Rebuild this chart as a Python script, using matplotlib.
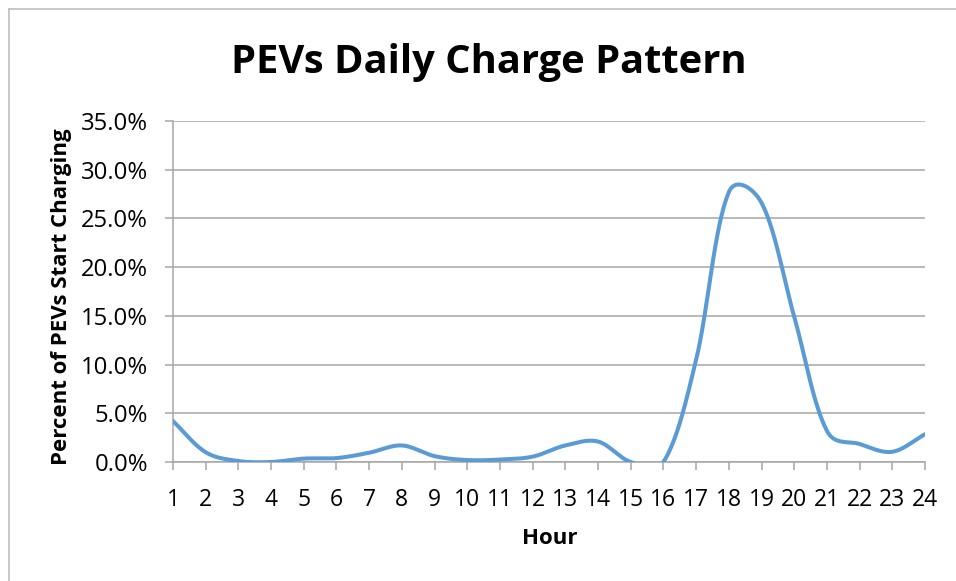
import numpy as np
import matplotlib.pyplot as plt
from matplotlib.lines import Line2D
from matplotlib.ticker import PercentFormatter

plt.rcParams['font.family'] = ['Open Sans', 'DejaVu Sans']

hours = list(range(1, 25))
share = [4.2, 1.0, 0.1, 0.0, 0.35, 0.4, 0.95, 1.7, 0.6, 0.2, 0.25, 0.55,
         1.7, 2.1, 0.0, 0.0, 10.5, 27.7, 26.6, 14.9, 3.2, 1.85, 1.05, 2.85]

line_color = '#5B9BD5'
grey = '#A6A6A6'

W, H = 956, 581
ax_left, ax_right, ax_top, ax_bottom = 173, 925, 121, 462


def smooth(x, y, sx, sy, n=40):
    # excel style smoothed line: bezier segments, handle length weighted by
    # the on-screen length of the neighbouring segments
    x = np.asarray(x, float)
    y = np.asarray(y, float)
    pts = np.column_stack([x * sx, y * sy])
    m = len(pts)
    d = np.sqrt(np.r_[0, np.hypot(*np.diff(pts, axis=0).T), 0])
    t = np.linspace(0, 1, n)[:, None]
    out = []
    for i in range(m - 1):
        p0, p3 = pts[i], pts[i + 1]
        a = pts[max(i - 1, 0)]
        b = pts[min(i + 2, m - 1)]
        c1 = p0 + (p3 - a) * d[i + 1] / (d[i] + d[i + 1]) / 3
        c2 = p3 - (b - p0) * d[i + 1] / (d[i + 1] + d[i + 2]) / 3
        seg = (1 - t) ** 3 * p0 + 3 * (1 - t) ** 2 * t * c1 + 3 * (1 - t) * t ** 2 * c2 + t ** 3 * p3
        out.append(seg)
    out = np.vstack(out)
    return out[:, 0] / sx, out[:, 1] / sy


fig = plt.figure(figsize=(W / 100, H / 100), dpi=100)
ax = fig.add_axes([ax_left / W, 1 - ax_bottom / H, (ax_right - ax_left) / W, (ax_bottom - ax_top) / H])

px_x = (ax_right - ax_left) / 23
px_y = (ax_bottom - ax_top) / 35
cx, cy = smooth(hours, share, px_x, px_y)
ax.plot(cx, cy, color=line_color, lw=2.9, solid_capstyle='round', zorder=3)

ax.set_xlim(1, 24)
ax.set_ylim(0, 35)
ax.set_xticks(hours)
ax.set_yticks(np.arange(0, 36, 5))
ax.yaxis.set_major_formatter(PercentFormatter(decimals=1))
ax.grid(axis='y', color=grey, lw=1.1)
ax.set_axisbelow(True)

for s in ['top', 'right']:
    ax.spines[s].set_visible(False)
for s in ['left', 'bottom']:
    ax.spines[s].set_color(grey)
    ax.spines[s].set_linewidth(1.1)

ax.tick_params(axis='x', direction='out', length=6, width=1.1, color=grey,
               labelsize=16.5, pad=13)
ax.tick_params(axis='y', direction='out', length=6, width=1.1, color=grey,
               labelsize=17.2, pad=12)

fig.text(550 / W, 1 - 539 / H, 'Hour', ha='center', va='center',
         fontsize=16, fontweight='bold')
fig.text(62 / W, 1 - 297 / H, 'Percent of PEVs Start Charging', ha='center', va='center',
         rotation=90, fontsize=16, fontweight='bold')
fig.text(489 / W, 1 - 62 / H, 'PEVs Daily Charge Pattern', ha='center', va='center',
         fontsize=28.7, fontweight='bold')

# chart frame (only left and top edges are inside the picture)
fig.add_artist(Line2D([9 / W, 9 / W], [0, 1 - 9 / H], color='#BFBFBF', lw=1.2,
                      transform=fig.transFigure))
fig.add_artist(Line2D([9 / W, 1], [1 - 9 / H, 1 - 9 / H], color='#BFBFBF', lw=1.2,
                      transform=fig.transFigure))

fig.savefig('out.png', dpi=100, facecolor='white')
